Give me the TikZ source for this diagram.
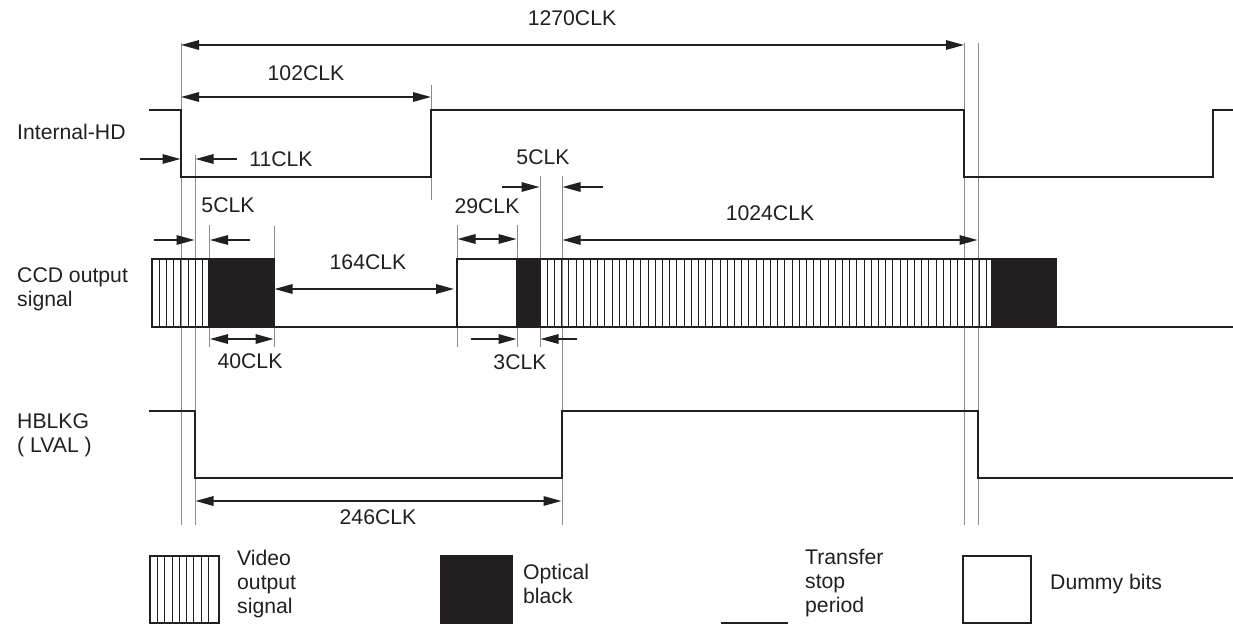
\documentclass[tikz,border=0pt]{standalone}
\usepackage{fontspec}
\setmainfont{Liberation Sans}
\usetikzlibrary{arrows.meta}
\definecolor{ink}{HTML}{231F20}
\definecolor{guide}{HTML}{8C8C8C}
\begin{document}
\begin{tikzpicture}[x=1pt,y=-1pt,
  lbl/.style={font=\fontsize{21.2}{23.8}\selectfont, inner sep=0pt, text=ink, align=left},
  guideline/.style={draw=guide, line width=1pt},
  sig/.style={draw=ink, line width=2pt, line join=miter},
  boxline/.style={draw=ink, line width=1.6pt},
  stripe/.style={draw=ink, line width=0.8pt},
  dimarr/.style={draw=ink, line width=1.6pt, {Triangle[length=18pt,width=9.5pt]}-{Triangle[length=18pt,width=9.5pt]}},
  onearr/.style={draw=ink, line width=1.6pt, -{Triangle[length=18pt,width=9.5pt]}},
  blk/.style={fill=ink, draw=ink, line width=1.2pt}]
\useasboundingbox (0,0) rectangle (1233,624);

% ---------- guide lines ----------
\draw[guideline] (181,43) -- (181,525);
\draw[guideline] (195,155) -- (195,525);
\draw[guideline] (431,85) -- (431,200);
\draw[guideline] (209.5,225) -- (209.5,347);
\draw[guideline] (274,226) -- (274,347);
\draw[guideline] (457,225) -- (457,347);
\draw[guideline] (517,225) -- (517,347);
\draw[guideline] (540,176) -- (540,347);
\draw[guideline] (562,176) -- (562,525);
\draw[guideline] (964,43) -- (964,525);
\draw[guideline] (978,43) -- (978,525);

% ---------- signal labels ----------
\node[lbl, anchor=west] (ihd) at (17,132) {Internal-HD};
\node[lbl, anchor=west] (ccd) at (17,289) {CCD output\\signal};
\node[lbl, anchor=west] (hblkg) at (17,435) {HBLKG\\( LVAL )};

% ---------- Internal-HD ----------
\draw[sig] (149,110) -- (181,110) -- (181,177) -- (431,177) -- (431,110) -- (964,110) -- (964,177) -- (1213,177) -- (1213,110) -- (1233,110);

% ---------- CCD output signal ----------
\foreach \k in {1,...,7} \draw[stripe] (152+7.2*\k,259) -- (152+7.2*\k,327);
\draw[boxline] (152,259) rectangle (209,327);
\draw[blk] (209,259) rectangle (274,327);
\draw[sig] (274,327) -- (457,327);
\draw[boxline] (457,259) rectangle (517,327);
\draw[blk] (517,259) rectangle (540,327);
\foreach \k in {1,...,62} \draw[stripe] (540+7.2*\k,259) -- (540+7.2*\k,327);
\draw[boxline] (540,259) rectangle (992,327);
\draw[blk] (992,259) rectangle (1056,327);
\draw[sig] (1056,327) -- (1233,327);

% ---------- HBLKG ----------
\draw[sig] (149,411) -- (195,411) -- (195,478) -- (562,478) -- (562,411) -- (978,411) -- (978,478) -- (1233,478);

% ---------- dimensions ----------
\draw[dimarr] (181,45) -- (964,45);
\node[lbl] (l1270) at (572,18) {1270CLK};

\draw[dimarr] (181,97) -- (431,97);
\node[lbl] (l102) at (306,73) {102CLK};

\draw[onearr] (140,159) -- (180.5,159);
\draw[onearr] (237,159) -- (195.5,159);
\node[lbl] (l11) at (281,159) {11CLK};

\draw[onearr] (154,240) -- (194.5,240);
\draw[onearr] (250,240) -- (210,240);
\node[lbl] (l5a) at (228,205) {5CLK};

\draw[dimarr] (210,339) -- (273.5,339);
\node[lbl] (l40) at (250,361) {40CLK};

\draw[dimarr] (274.5,289) -- (454,289);
\node[lbl] (l164) at (368,262) {164CLK};

\draw[dimarr] (457.5,239) -- (516.5,239);
\node[lbl] (l29) at (487,206) {29CLK};

\draw[onearr] (502,187) -- (539.5,187);
\draw[onearr] (603,187) -- (562.5,187);
\node[lbl] (l5b) at (543,157) {5CLK};

\draw[onearr] (471,339) -- (516.5,339);
\draw[onearr] (577,339) -- (540.5,339);
\node[lbl] (l3) at (520,362) {3CLK};

\draw[dimarr] (562.5,240) -- (977.5,240);
\node[lbl] (l1024) at (770,213) {1024CLK};

\draw[dimarr] (195.5,501) -- (561.5,501);
\node[lbl] (l246) at (378,517) {246CLK};

% ---------- legend ----------
\foreach \k in {1,...,8} \draw[stripe] (150+7.3*\k,556) -- (150+7.3*\k,623);
\draw[boxline] (150,556) rectangle (219,623);
\node[lbl, anchor=west] (lvid) at (237,584) {Video\\output\\signal};

\draw[blk] (441,556) rectangle (512,623);
\node[lbl, anchor=west] (lob) at (523,584) {Optical\\black};

\draw[sig] (721,623) -- (788,623);
\node[lbl, anchor=west] (lts) at (805,583) {Transfer\\stop\\period};

\draw[boxline] (963,556) rectangle (1031,623);
\node[lbl, anchor=west] (ldb) at (1050,584) {Dummy bits};
\end{tikzpicture}
\end{document}
